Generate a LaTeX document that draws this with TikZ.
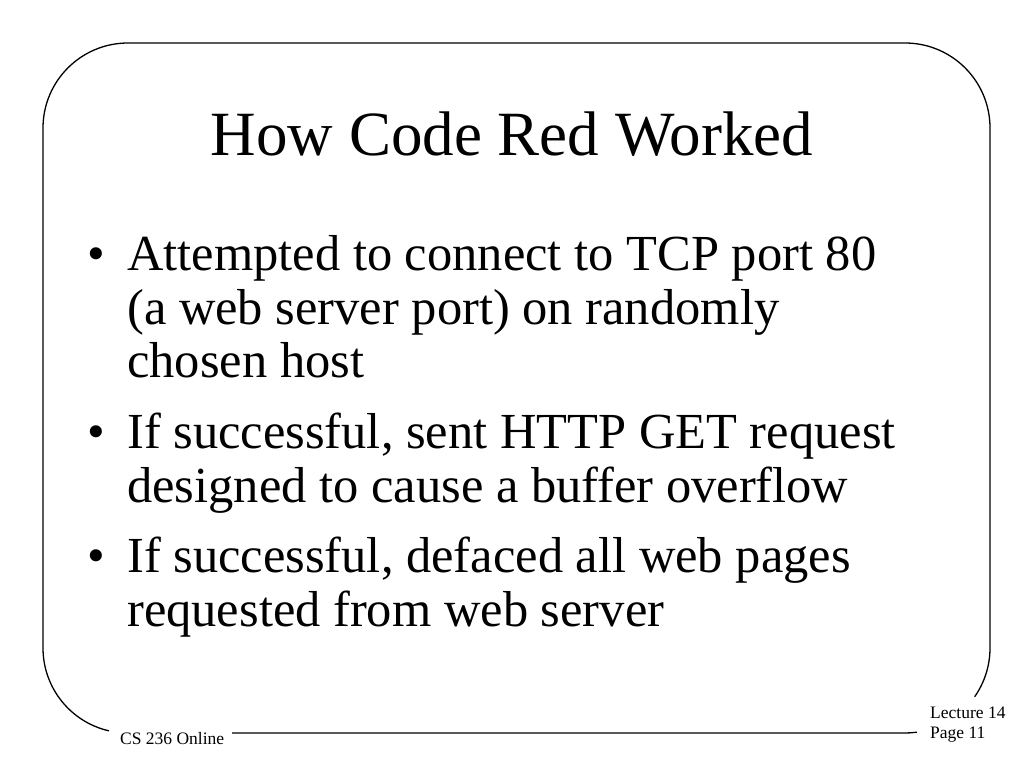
\documentclass[tikz,border=0pt]{standalone}
\usepackage{fontspec}
\setmainfont{Liberation Serif}
\usetikzlibrary{calc}
\begin{document}
\begin{tikzpicture}[x=1pt,y=1pt,
  frame/.style={line width=1.3pt,black},
  titletext/.style={anchor=base,inner sep=0pt,font=\fontsize{63}{70}\selectfont},
  bodytext/.style={anchor=base west,inner sep=0pt,font=\fontsize{50.5}{54}\selectfont},
  bulletmark/.style={anchor=base west,inner sep=0pt,font=\fontsize{50.5}{54}\selectfont},
  foottext/.style={anchor=base west,inner sep=0pt,font=\fontsize{17.5}{20}\selectfont}]
\useasboundingbox[fill=white] (0,0) rectangle (1024,-768);
% frame
\draw[frame] ($(128,-648)+(257:85pt)$) arc[start angle=257,end angle=180,radius=85pt]
  -- (43,-128) arc[start angle=180,end angle=90,radius=85pt]
  -- (905,-43) arc[start angle=90,end angle=0,radius=85pt]
  -- (990,-648) arc[start angle=0,end angle=-35,radius=85pt];
\draw[frame] (232,-733) -- (905,-733) arc[start angle=270,end angle=278,radius=85pt];
% title
\node[titletext] (title) at (512,-155) {How Code Red Worked};
% bullets
\node[bulletmark] (b1) at (87,-270) {•};
\node[bodytext] (l1a) at (127,-270) {Attempted to connect to TCP port 80};
\node[bodytext] (l1b) at (127,-324) {(a web server port) on randomly};
\node[bodytext] (l1c) at (127,-377) {chosen host};
\node[bulletmark] (b2) at (87,-448) {•};
\node[bodytext] (l2a) at (127,-448) {If successful, sent HTTP GET request};
\node[bodytext] (l2b) at (127,-502) {designed to cause a buffer overflow};
\node[bulletmark] (b3) at (87,-572) {•};
\node[bodytext] (l3a) at (127,-572) {If successful, defaced all web pages};
\node[bodytext] (l3b) at (127,-626) {requested from web server};
% footer
\node[foottext] (course) at (120,-744) {CS 236 Online};
\node[foottext] (lect) at (930,-718) {Lecture 14};
\node[foottext] (page) at (930,-738) {Page 11};
\end{tikzpicture}
\end{document}
